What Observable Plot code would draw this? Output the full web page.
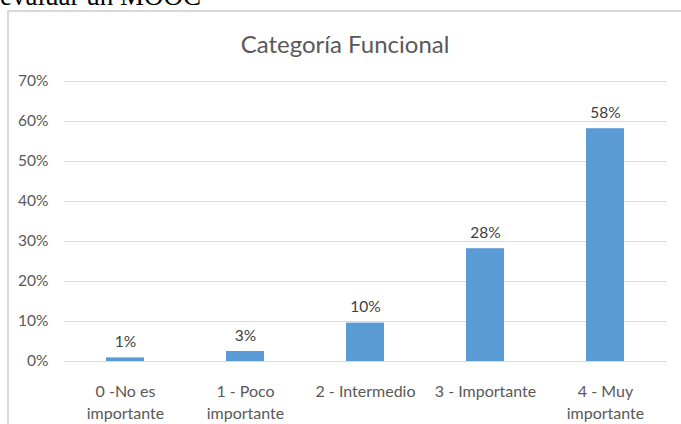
<!DOCTYPE html>
<html>
<head>
<meta charset="utf-8">
<script src="https://cdn.jsdelivr.net/npm/d3@7"></script>
<script src="https://cdn.jsdelivr.net/npm/@observablehq/plot@0.6"></script>
<style>
  html, body { margin: 0; padding: 0; background: #fff; overflow: hidden; }
  #wrap { position: relative; width: 681px; height: 424px; overflow: hidden; }
  #above { position: absolute; left: 0px; top: -19px; font-family: "Liberation Serif", "Times New Roman", serif; font-size: 27px; line-height: 30px; color: #000; white-space: nowrap; }
  #box { position: absolute; left: 7px; top: 10px; width: 700px; height: 430px; border-left: 2px solid #d9d9d9; border-top: 2px solid #d9d9d9; box-sizing: border-box; }
  #title { position: absolute; left: 0; width: 690px; top: 30px; text-align: center; font-family: Lato, "Open Sans", sans-serif; font-size: 24px; color: #595959; line-height: 28px; }
  #chart { position: absolute; left: 0; top: 0; }
</style>
</head>
<body>
<div id="wrap">
  <div id="above">evaluar un MOOC</div>
  <div id="box"></div>
  <div id="chart"></div>
  <div id="title">Categoría Funcional</div>
</div>
<script>
const categories = ["0 -No es\nimportante", "1 - Poco\nimportante", "2 - Intermedio", "3 - Importante", "4 - Muy\nimportante"];
const values = [0.009, 0.025, 0.096, 0.282, 0.582];
const valueLabels = ["1%", "3%", "10%", "28%", "58%"];
const yTicks = [0, 0.1, 0.2, 0.3, 0.4, 0.5, 0.6, 0.7];

const data = categories.map((c, i) => ({category: c, value: values[i], label: valueLabels[i]}));

const chart = Plot.plot({
  width: 681,
  height: 424,
  marginLeft: 64,
  marginRight: 15,
  marginTop: 81,
  marginBottom: 63,
  style: { fontFamily: "Lato, 'Open Sans', sans-serif", background: "transparent" },
  x: { domain: categories, paddingInner: 0.68, paddingOuter: 0.34, axis: null },
  y: { domain: [0, 0.7], axis: null },
  marks: [
    Plot.gridY(yTicks, { stroke: "#d9d9d9", strokeOpacity: 1, strokeWidth: 1 }),
    Plot.axisY(yTicks, { tickSize: 0, tickPadding: 16, tickFormat: d3.format(".0%"), fontSize: 15.5, fill: "#595959", label: null }),
    Plot.barY(data, { x: "category", y: "value", fill: "#5b9bd5" }),
    Plot.text(data, { x: "category", y: "value", text: "label", lineAnchor: "bottom", dy: -11, fontSize: 15.5, fill: "#404040" }),
    Plot.text(data, { x: "category", y: () => 0, text: "category", lineAnchor: "top", dy: 20, lineHeight: 1.375, fontSize: 16, fill: "#595959" })
  ]
});
document.getElementById("chart").appendChild(chart);
</script>
</body>
</html>
